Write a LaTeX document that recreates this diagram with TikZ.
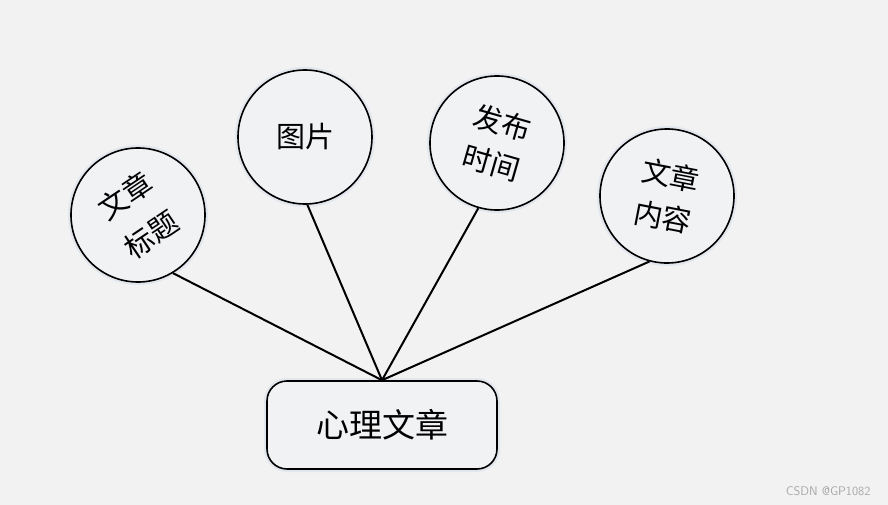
\documentclass[tikz,border=0pt]{standalone}
\usepackage{fontspec}
\newfontfamily\cjk{Noto Sans CJK SC}
\usetikzlibrary{positioning}
\definecolor{Paper}{HTML}{F2F2F2}
\definecolor{Bubble}{HTML}{F1F2F4}
\definecolor{Glow}{HTML}{E2E7EE}
\definecolor{Mark}{HTML}{A8A8A8}

\tikzset{
  topic/.style={draw,circle,line width=1.6pt,fill=Bubble,minimum size=134pt,inner sep=0pt,align=center,
    preaction={draw=Glow,line width=6pt},font=\cjk\fontsize{29}{42}\selectfont},
  root/.style={draw,rounded corners=20pt,line width=1.6pt,fill=Bubble,minimum width=230pt,minimum height=88pt,
    preaction={draw=Glow,line width=6pt},font=\cjk\fontsize{33}{38}\selectfont},
  link/.style={line width=2pt}
}

\begin{document}
\begin{tikzpicture}[x=1pt,y=-1pt]
  \fill[Paper] (0,0) rectangle (888,505);
  \useasboundingbox (0,0) rectangle (888,505);

  \node[root] (article) at (382,425) {心理文章};

  \node[topic,rotate=34,font=\cjk\fontsize{29}{47}\selectfont] (title) at (138,215) {文章\\标题};
  \node[topic] (picture) at (305,137) {图片};
  \node[topic,rotate=-16] (time) at (497,143) {发布\\时间};
  \node[topic,rotate=-11] (content) at (667,196) {文章\\内容};

  \draw[link] (article.north) -- (title.-93);
  \draw[link] (article.north) -- (picture.-88);
  \draw[link] (article.north) -- (time.-90);
  \draw[link] (article.north) -- (content.-94);

  \node[text=Mark,font=\sffamily\fontsize{12.5}{14}\selectfont,anchor=east] (mark) at (874,491) {CSDN @GP1082};
\end{tikzpicture}
\end{document}
